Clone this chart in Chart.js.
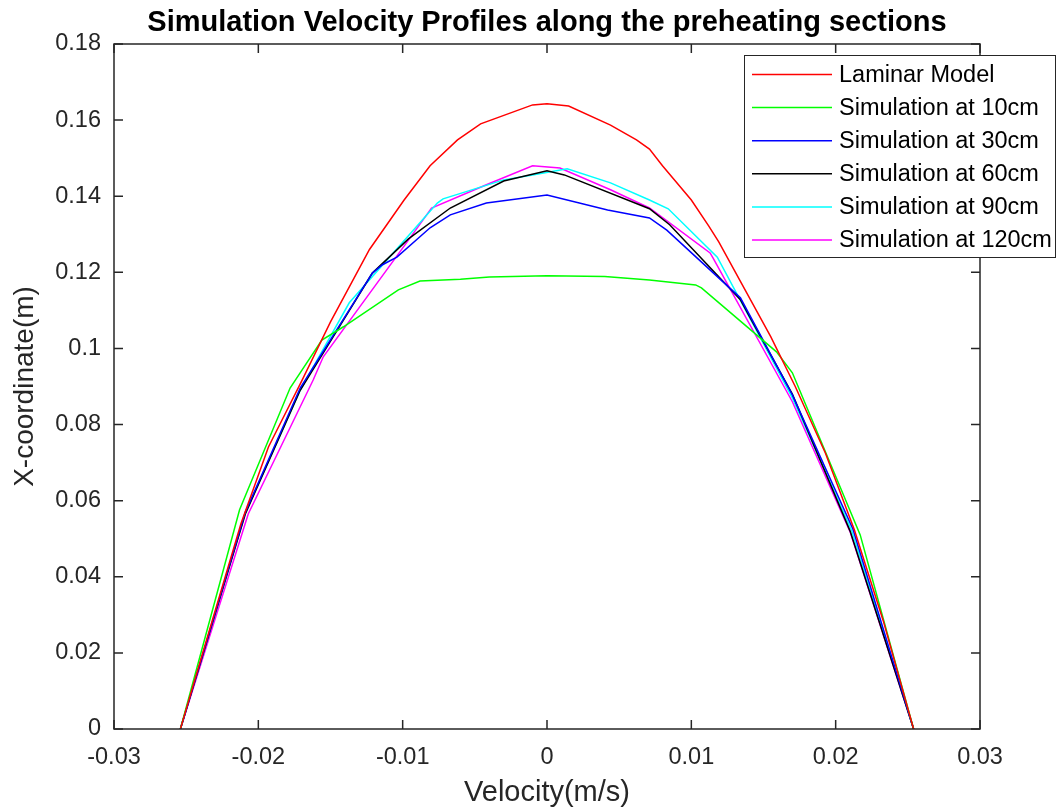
<!DOCTYPE html>
<html>
<head>
<meta charset="utf-8">
<script src="https://cdn.jsdelivr.net/npm/chart.js@4.4.0/dist/chart.umd.min.js"></script>
<style>
  html, body { margin: 0; padding: 0; background: #fff; }
  #wrap { width: 1057px; height: 811px; }
</style>
</head>
<body>
<div id="wrap"><canvas id="myChart" width="1057" height="811"></canvas></div>
<script>
// series labels and colours
var seriesNames = ["Laminar Model", "Simulation at 10cm", "Simulation at 30cm", "Simulation at 60cm", "Simulation at 90cm", "Simulation at 120cm"];
var seriesColors = ["#ff0000", "#00ff00", "#0000ff", "#000000", "#00ffff", "#ff00ff"];

// velocity (x) and x-coordinate (y)
var laminarX = [-0.0254, -0.0232, -0.0212, -0.0193, -0.0170, -0.0150, -0.0123, -0.0099, -0.0081, -0.0062, -0.0046, -0.0010, 0, 0.0015, 0.0044, 0.0062, 0.0071, 0.0080, 0.0100, 0.0112, 0.0119, 0.0155, 0.0172, 0.0193, 0.0213, 0.0233, 0.0254];
var laminarY = [0, 0.0284, 0.0540, 0.0741, 0.0914, 0.1070, 0.1260, 0.1390, 0.1480, 0.1548, 0.1590, 0.1640, 0.1643, 0.1637, 0.1587, 0.1548, 0.1524, 0.1480, 0.1390, 0.1322, 0.1280, 0.1031, 0.0900, 0.0724, 0.0523, 0.0284, 0];

var sim10X = [-0.0254, -0.0213, -0.0178, -0.0156, -0.0141, -0.0103, -0.0088, -0.0060, -0.0040, 0, 0.0040, 0.0071, 0.0103, 0.0107, 0.0159, 0.0170, 0.0217, 0.0254];
var sim10Y = [0, 0.0576, 0.0896, 0.1022, 0.1057, 0.1154, 0.1177, 0.1182, 0.1188, 0.1191, 0.1189, 0.1180, 0.1167, 0.1159, 0.0991, 0.0936, 0.0510, 0];

var sim30X = [-0.0254, -0.0209, -0.0171, -0.0121, -0.0114, -0.0104, -0.0081, -0.0067, -0.0042, 0, 0.0042, 0.0071, 0.0083, 0.0134, 0.0170, 0.0212, 0.0254];
var sim30Y = [0, 0.0570, 0.0896, 0.1198, 0.1220, 0.1240, 0.1317, 0.1351, 0.1382, 0.1403, 0.1364, 0.1343, 0.1311, 0.1133, 0.0878, 0.0525, 0];

var sim60X = [-0.0254, -0.0209, -0.0171, -0.0121, -0.0096, -0.0067, -0.0030, 0, 0.0012, 0.0071, 0.0085, 0.0134, 0.0139, 0.0170, 0.0210, 0.0254];
var sim60Y = [0, 0.0565, 0.0890, 0.1198, 0.1288, 0.1369, 0.1440, 0.1467, 0.1456, 0.1367, 0.1325, 0.1128, 0.1093, 0.0880, 0.0520, 0];

var sim90X = [-0.0254, -0.0209, -0.0171, -0.0137, -0.0076, -0.0072, -0.0030, -0.0010, 0.0014, 0.0044, 0.0071, 0.0084, 0.0118, 0.0170, 0.0211, 0.0254];
var sim90Y = [0, 0.0568, 0.0890, 0.1120, 0.1382, 0.1393, 0.1443, 0.1456, 0.1472, 0.1435, 0.1390, 0.1367, 0.1240, 0.0870, 0.0522, 0];

var sim120X = [-0.0254, -0.0207, -0.0162, -0.0155, -0.0095, -0.0080, -0.0042, -0.0010, 0.0009, 0.0044, 0.0071, 0.0113, 0.0115, 0.0170, 0.0210, 0.0254];
var sim120Y = [0, 0.0565, 0.0917, 0.0978, 0.1290, 0.1369, 0.1430, 0.1480, 0.1474, 0.1417, 0.1369, 0.1251, 0.1238, 0.0860, 0.0518, 0];

var xTicks = [-0.03, -0.02, -0.01, 0, 0.01, 0.02, 0.03];
var yTicks = [0, 0.02, 0.04, 0.06, 0.08, 0.1, 0.12, 0.14, 0.16, 0.18];

var axisColor = '#262626';
var fontName = '"Liberation Sans", Arial, sans-serif';

//function to join x and y arrays into points
function toPoints(xs, ys){
   var pts = [];
   for (var i = 0; i < xs.length; i++) {
      pts.push({x: xs[i], y: ys[i]});
   }
   return pts;
}

var allX = [laminarX, sim10X, sim30X, sim60X, sim90X, sim120X];
var allY = [laminarY, sim10Y, sim30Y, sim60Y, sim90Y, sim120Y];
var datasets = [];
for (var s = 0; s < seriesNames.length; s++) {
   datasets.push({
      label: seriesNames[s],
      data: toPoints(allX[s], allY[s]),
      borderColor: seriesColors[s],
      backgroundColor: seriesColors[s],
      borderWidth: 1.5,
      showLine: true,
      pointRadius: 0,
      tension: 0
   });
}

//plugin: box around axes with inward ticks
var frameTicks = {
   id: 'frameTicks',
   afterDatasetsDraw: function(chart){
      var ctx = chart.ctx;
      var a = chart.chartArea;
      var xs = chart.scales.x, ys = chart.scales.y;
      ctx.save();
      ctx.strokeStyle = axisColor;
      ctx.lineWidth = 1.5;
      ctx.strokeRect(a.left, a.top, a.right - a.left, a.bottom - a.top);
      var len = 9;
      ctx.beginPath();
      xTicks.forEach(function(v){
         var px = xs.getPixelForValue(v);
         ctx.moveTo(px, a.bottom); ctx.lineTo(px, a.bottom - len);
         ctx.moveTo(px, a.top); ctx.lineTo(px, a.top + len);
      });
      yTicks.forEach(function(v){
         var py = ys.getPixelForValue(v);
         ctx.moveTo(a.left, py); ctx.lineTo(a.left + len, py);
         ctx.moveTo(a.right, py); ctx.lineTo(a.right - len, py);
      });
      ctx.stroke();
      ctx.restore();
   }
};

//plugin: matlab style legend box
var boxLegend = {
   id: 'boxLegend',
   afterDraw: function(chart){
      var ctx = chart.ctx;
      var left = 744, top = 55, right = 1056, bottom = 258;
      ctx.save();
      ctx.fillStyle = '#ffffff';
      ctx.fillRect(left, top, right - left, bottom - top);
      ctx.strokeStyle = axisColor;
      ctx.lineWidth = 1;
      ctx.strokeRect(left + 0.5, top + 0.5, right - left - 1, bottom - top - 1);
      ctx.font = '23.5px ' + fontName;
      ctx.textBaseline = 'middle';
      ctx.textAlign = 'left';
      chart.data.datasets.forEach(function(ds, i){
         var y = 74.5 + i * 33.1;
         ctx.strokeStyle = ds.borderColor;
         ctx.lineWidth = 1.5;
         ctx.beginPath();
         ctx.moveTo(752, y); ctx.lineTo(832, y);
         ctx.stroke();
         ctx.fillStyle = '#000000';
         ctx.fillText(ds.label, 839, y + 1);
      });
      ctx.restore();
   }
};

function tickText(v){
   return Number(v.toFixed(2)).toString();
}

var ctx = document.getElementById('myChart').getContext('2d');
var chart = new Chart(ctx, {
   type: 'scatter',
   data: { datasets: datasets },
   plugins: [frameTicks, boxLegend],
   options: {
      responsive: false,
      animation: false,
      layout: { padding: { left: 0, right: 77, top: 0, bottom: 0 } },
      plugins: {
         legend: { display: false },
         tooltip: { enabled: false },
         title: {
            display: true,
            fullSize: false,
            text: 'Simulation Velocity Profiles along the preheating sections',
            color: '#000000',
            font: { family: fontName, size: 29, weight: 'bold', lineHeight: 1.2 },
            padding: { top: 6, bottom: 3.2 }
         }
      },
      scales: {
         x: {
            type: 'linear',
            min: -0.03,
            max: 0.03,
            afterBuildTicks: function(scale){
               scale.ticks = xTicks.map(function(v){ return {value: v}; });
            },
            afterFit: function(scale){ scale.height = 82; },
            grid: { display: false, drawTicks: false },
            border: { display: false },
            ticks: {
               color: axisColor,
               padding: 14,
               maxRotation: 0,
               autoSkip: false,
               font: { family: fontName, size: 23.5 },
               callback: tickText
            },
            title: {
               display: true,
               text: 'Velocity(m/s)',
               color: axisColor,
               font: { family: fontName, size: 29 },
               padding: { top: 0, bottom: 1 }
            }
         },
         y: {
            type: 'linear',
            min: 0,
            max: 0.18,
            afterBuildTicks: function(scale){
               scale.ticks = yTicks.map(function(v){ return {value: v}; });
            },
            afterFit: function(scale){ scale.width = 114; },
            grid: { display: false, drawTicks: false },
            border: { display: false },
            ticks: {
               color: axisColor,
               padding: 13,
               autoSkip: false,
               font: { family: fontName, size: 23.5 },
               callback: tickText
            },
            title: {
               display: true,
               text: 'X-coordinate(m)',
               color: axisColor,
               font: { family: fontName, size: 28 },
               padding: { top: 8, bottom: 0 }
            }
         }
      }
   }
});
</script>
</body>
</html>
